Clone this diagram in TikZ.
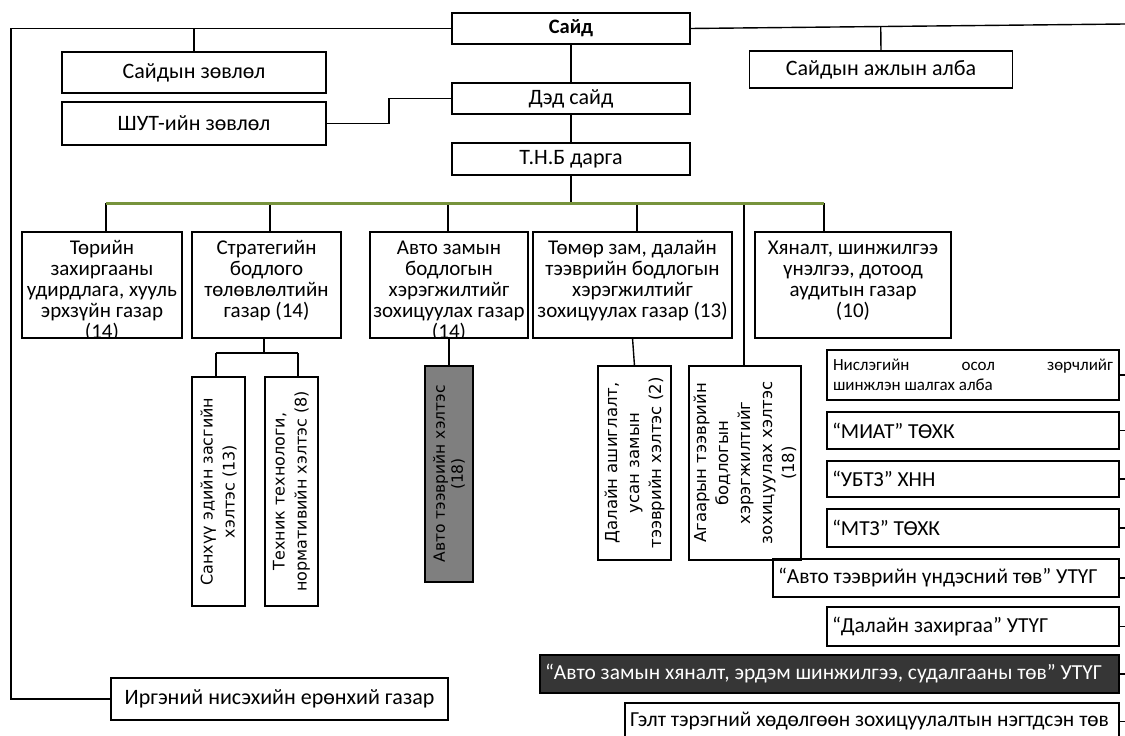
\documentclass[tikz,border=0pt]{standalone}
\usepackage{fontspec}
\usepackage{graphicx}
\setmainfont{Carlito}
\newfontfamily\dvs{DejaVu Sans}
\usetikzlibrary{calc}
\definecolor{olivebar}{HTML}{77933C}
\definecolor{greyfill}{HTML}{7F7F7F}
\definecolor{darkfill}{HTML}{363636}
\newcommand\lft[2]{\makebox[#1][l]{#2}}
\begin{document}
\begin{tikzpicture}[x=1pt,y=-1pt,
  box/.style={draw, line width=1.4pt, inner sep=0pt, outer sep=0pt},
  conn/.style={line width=1.4pt},
  bar/.style={line width=3pt, draw=olivebar},
  toptext/.style={font=\fontsize{22}{24}\selectfont},
  lvltext/.style={align=center, inner sep=0pt, font=\fontsize{21}{21}\selectfont},
  listbox/.style={box, font=\fontsize{21.4}{24}\selectfont}
]
\useasboundingbox (0,0) rectangle (1125,736);

% top level
\node[box, minimum width=238, minimum height=31, font=\bfseries\fontsize{20.5}{24}\selectfont] (sayd) at (571,28.5) {Сайд};
\node[box, toptext, minimum width=264, minimum height=41] (zovlol) at (194,72.5) {Сайдын зөвлөл};
\node[box, toptext, minimum width=264, minimum height=43] (shut) at (194,123.5) {ШУТ-ийн зөвлөл};
\node[box, toptext, minimum width=263, minimum height=37] (ajil) at (881,69.5) {Сайдын ажлын алба};
\node[box, toptext, minimum width=238, minimum height=31] (ded) at (571,98.5) {Дэд сайд};
\node[box, toptext, minimum width=238, minimum height=32] (tnb) at (571,159) {Т.Н.Б дарга};
\node[box, toptext, minimum width=337, minimum height=42] (irgen) at (279.5,699) {Иргэний нисэхийн ерөнхий газар};

\coordinate (tl) at (11,28.5);
\coordinate (tr) at (1125,24);
\draw[conn] (sayd.west) -- (tl) |- (irgen.west);
\draw[conn] (sayd.east) -- (tr);
\draw[conn] (zovlol.north) -- (zovlol.north |- sayd.west);
\draw[conn] (ajil.north) -- ($(sayd.east)!(ajil.north)!(tr)$);
\draw[conn] (shut.east) -- ++(63,0) |- (ded.west);
\draw[conn] (sayd.south) -- (ded.north);
\draw[conn] (ded.south) -- (tnb.north);

% green bar
\coordinate (g1) at (106,203);
\coordinate (g2) at (270,203);
\coordinate (g3) at (448,203);
\coordinate (g4) at (637,203);
\coordinate (g5) at (744,203);
\coordinate (g6) at (824,203);
\draw[conn] (tnb.south) -- (tnb.south |- g1);

% level 2 boxes
\node[box, minimum width=160, minimum height=106] (b1) at (102,285) {};
\node[box, minimum width=149, minimum height=106] (b2) at (266.5,285) {};
\node[box, minimum width=158, minimum height=106] (b3) at (449,285) {};
\node[box, minimum width=199, minimum height=106] (b4) at (632.5,285) {};
\node[box, minimum width=196, minimum height=106] (b5) at (853,285) {};
\begin{scope}
\clip (b1.south west) rectangle (b1.north east);
\node[lvltext, anchor=north] (b1t) at ([yshift=-8.5pt]b1.north) {Төрийн\\захиргааны\\удирдлага, хууль\\эрхзүйн газар\\(14)};
\end{scope}
\node[lvltext, anchor=north] (b2t) at ([yshift=-8.5pt]b2.north) {Стратегийн\\бодлого\\төлөвлөлтийн\\газар (14)};
\begin{scope}
\clip (b3.south west) rectangle (b3.north east);
\node[lvltext, anchor=north] (b3t) at ([yshift=-8.5pt]b3.north) {Авто замын\\бодлогын\\хэрэгжилтийг\\зохицуулах газар\\(14)};
\end{scope}
\node[lvltext, anchor=north] (b4t) at ([yshift=-8.5pt]b4.north) {Төмөр зам, далайн\\тээврийн бодлогын\\хэрэгжилтийг\\зохицуулах газар (13)};
\node[lvltext, anchor=north] (b5t) at ([yshift=-8.5pt]b5.north) {Хяналт, шинжилгээ\\үнэлгээ, дотоод\\аудитын газар\\(10)};

% rotated boxes
\node[box, minimum width=53, minimum height=229] (sanh) at (218.5,491.5)
  {\rotatebox{90}{\parbox{220pt}{\dvs\fontsize{16}{22}\selectfont\centering Санхүү эдийн засгийн\\хэлтэс (13)}}};
\node[box, minimum width=53, minimum height=229] (tech) at (291.5,491.5)
  {\rotatebox{90}{\parbox{220pt}{\dvs\fontsize{16}{22}\selectfont\centering Техник технологи,\\нормативийн хэлтэс (8)}}};
\node[box, fill=greyfill, minimum width=48, minimum height=216] (grey) at (449,474)
  {\rotatebox{90}{\parbox{205pt}{\dvs\fontsize{15.5}{18}\selectfont\centering Авто тээврийн хэлтэс\\(18)}}};
\node[box, minimum width=73, minimum height=194] (dal) at (634.5,463)
  {\rotatebox{90}{\parbox{185pt}{\dvs\fontsize{16.5}{22}\selectfont\centering Далайн ашиглалт,\\усан замын\\тээврийн хэлтэс (2)}}};
\node[box, minimum width=112, minimum height=194] (agaar) at (745,463)
  {\rotatebox{90}{\parbox{185pt}{\dvs\fontsize{16.5}{22}\selectfont\centering Агаарын тээврийн\\бодлогын\\хэрэгжилтийг\\зохицуулах хэлтэс\\(18)}}};

% drops from bar
\draw[conn] (g1) -- (g1 |- b1.north);
\draw[conn] (g2) -- (g2 |- b2.north);
\draw[conn] (g3) -- (g3 |- b3.north);
\draw[conn] (g4) -- (g4 |- b4.north);
\draw[conn] (g5) -- (g5 |- agaar.north);
\draw[conn] (g6) -- (g6 |- b5.north);
\draw[bar] (g1) -- (g6);

% sub connectors
\coordinate (jn) at (264,353);
\coordinate (jl) at (216,353);
\coordinate (jr) at (298,353);
\draw[conn] (jn |- b2.south) -- (jn);
\draw[conn] (jl) -- (jr);
\draw[conn] (jl) -- (jl |- sanh.north);
\draw[conn] (jr) -- (jr |- tech.north);
\draw[conn] (b3.south) -- (grey.north);
\draw[conn] (b4.south) -- (dal.north);

% right list
\node[box, minimum width=292, minimum height=50] (r1) at (973,375)
  {\parbox{280pt}{\leftskip0pt\rightskip0pt\fontsize{17}{20}\selectfont Нислэгийн осол зөрчлийг\linebreak шинжлэн шалгах алба}};
\node[listbox, minimum width=292, minimum height=37] (r2) at (973,430.5) {\lft{282pt}{“МИАТ” ТӨХК}};
\node[listbox, minimum width=292, minimum height=36] (r3) at (973,479) {\lft{282pt}{“УБТЗ” ХНН}};
\node[listbox, minimum width=292, minimum height=38] (r4) at (973,528) {\lft{282pt}{“МТЗ” ТӨХК}};
\node[listbox, minimum width=346, minimum height=38] (r5) at (946,578) {\lft{336pt}{“Авто тээврийн үндэсний төв” УТҮГ}};
\node[listbox, minimum width=292, minimum height=39] (r6) at (973,626.5) {\lft{282pt}{“Далайн захиргаа” УТҮГ}};
\node[listbox, fill=darkfill, text=white, minimum width=579, minimum height=38] (r7) at (829.5,674) {\lft{569pt}{“Авто замын хяналт, эрдэм шинжилгээ, судалгааны төв” УТҮГ}};
\node[listbox, minimum width=494, minimum height=37] (r8) at (872,721.5) {\lft{484pt}{Гэлт тэрэгний хөдөлгөөн зохицуулалтын нэгтдсэн төв}};
\foreach \r in {r1,r2,r3,r4,r5,r6,r7,r8}{
  \draw[conn] (\r.east) -- ++(7,0);
}
\end{tikzpicture}
\end{document}
